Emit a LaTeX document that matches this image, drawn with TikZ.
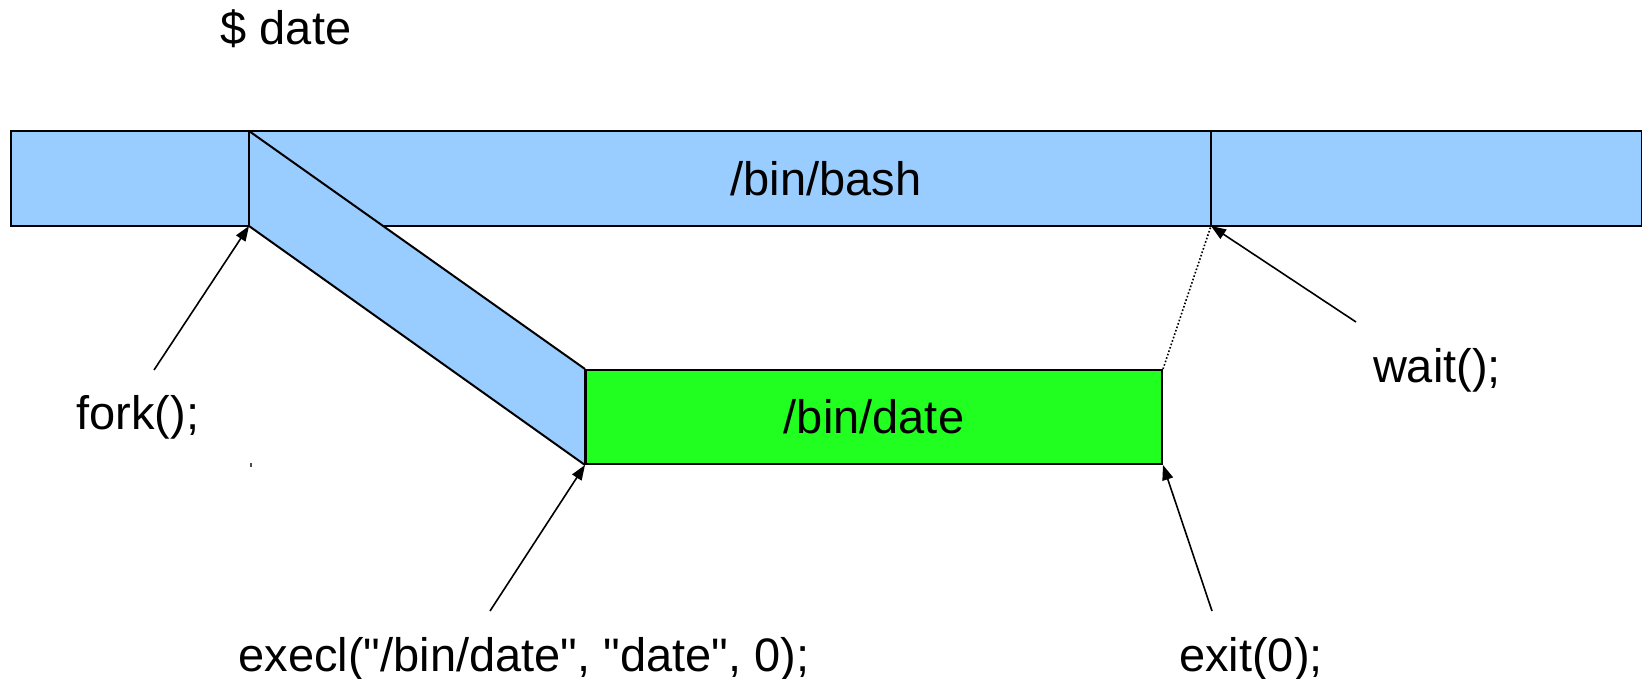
\documentclass[tikz,border=0pt]{standalone}
\usepackage{fontspec}
\setmainfont{Liberation Sans}[Ligatures=TeXOff]
\usetikzlibrary{arrows.meta}
\definecolor{bashblue}{RGB}{153,204,255}
\definecolor{dategreen}{RGB}{33,255,33}
\begin{document}
\begin{tikzpicture}[x=1pt,y=-1pt,
  lbl/.style={font=\fontsize{47}{56}\selectfont, inner sep=0pt, anchor=base},
  procbox/.style={draw=black, line width=2pt, inner sep=0pt, font=\fontsize{47}{56}\selectfont},
  edge/.style={draw=black, line width=2pt},
  callarrow/.style={draw=black, line width=1.6pt, -{Triangle[length=15pt,width=11pt]}},
  waitline/.style={draw=black, line width=1.6pt, dotted}]
\useasboundingbox (0,0) rectangle (1642,679);

% coordinates
\coordinate (forktop) at (249,131);
\coordinate (forkbot) at (249,226);
\coordinate (waittop) at (1211,131);
\coordinate (waitbot) at (1211,226);

% bash bar
\node[procbox, fill=bashblue, minimum width=1631pt, minimum height=95pt] (bash) at (826,178.5) {/bin/bash};

% date box
\node[procbox, fill=dategreen, minimum width=576pt, minimum height=94pt] (date) at (874,417) {/bin/date};

% band fill on top of bar
\fill[bashblue] (forktop) -- (date.north west) -- (date.south west) -- (forkbot) -- cycle;

% band edges
\draw[edge] (forktop) -- (date.north west);
\draw[edge] (forkbot) -- (date.south west);
\draw[edge] (date.north west) -- (date.south west);

% dividers
\draw[edge] (forktop) -- (forkbot);
\draw[edge] (waittop) -- (waitbot);

% dotted
\draw[waitline] (date.north east) -- (waitbot);

% labels
\node[lbl] (cmd) at (286,45) {\$ date};
\node[lbl] (forkl) at (138,429) {fork();};
\node[lbl] (waitl) at (1437,382) {wait();};
\node[lbl] (execl) at (524,671) {execl("/bin/date", "date", 0);};
\node[lbl] (exitl) at (1251,671) {exit(0);};

% arrow tails
\coordinate (forktail) at (154,370);
\coordinate (waittail) at (1356,322);
\coordinate (exectail) at (490,611);
\coordinate (exittail) at (1212,611);

\draw[callarrow] (forktail) -- (forkbot);
\draw[callarrow] (waittail) -- (waitbot);
\draw[callarrow] (exectail) -- (date.south west);
\draw[callarrow] (exittail) -- (date.south east);

% tiny mark
\fill[black!70] (250,463) rectangle (251.5,467);
\end{tikzpicture}
\end{document}
